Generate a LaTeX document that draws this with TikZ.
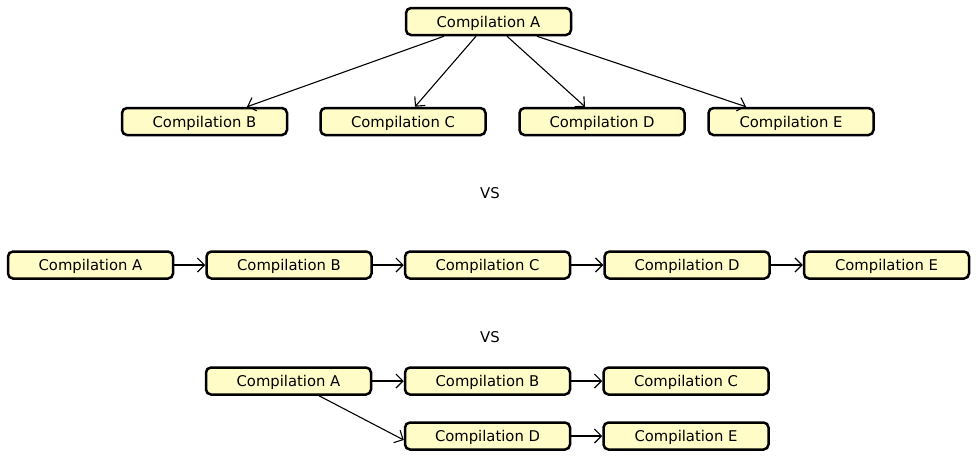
\documentclass[tikz,border=0pt]{standalone}
\usepackage{fontspec}
\setmainfont{DejaVu Sans}
\usetikzlibrary{arrows.meta}
\begin{document}
\begin{tikzpicture}[x=1pt,y=-1pt,
  comp/.style={draw=black,line width=2.5pt,fill=yellow!22!white,rounded corners=5pt,
    minimum width=165pt,minimum height=27pt,inner sep=0pt,text depth=0pt,font=\fontsize{14.8}{16}\selectfont},
  lbl/.style={font=\fontsize{14.8}{16}\selectfont,inner sep=0pt},
  arr/.style={line width=1.1pt,-{Straight Barb[length=7pt,width=14pt,line width=1.1pt]}}]
\useasboundingbox (0,0) rectangle (978,469);
% top tree
\node[comp] (tA) at (488.5,21.5) {Compilation A};
\node[comp] (tB) at (204.5,121.5) {Compilation B};
\node[comp] (tC) at (403,121.5) {Compilation C};
\node[comp] (tD) at (602,121.5) {Compilation D};
\node[comp] (tE) at (791,121.5) {Compilation E};
\draw[arr] (tA.south -| 444,0) -- (tB.north -| 247,0);
\draw[arr] (tA.south -| 476,0) -- (tC.north -| 415,0);
\draw[arr] (tA.south -| 507,0) -- (tD.north -| 585,0);
\draw[arr] (tA.south -| 537,0) -- (tE.north -| 746,0);
\node[lbl] (vs1) at (490,193) {VS};
% chain
\node[comp] (cA) at (90.5,265) {Compilation A};
\node[comp] (cB) at (289,265) {Compilation B};
\node[comp] (cC) at (487.5,265) {Compilation C};
\node[comp] (cD) at (687,265) {Compilation D};
\node[comp] (cE) at (886.5,265) {Compilation E};
\draw[arr] (cA) -- (cB);
\draw[arr] (cB) -- (cC);
\draw[arr] (cC) -- (cD);
\draw[arr] (cD) -- (cE);
\node[lbl] (vs2) at (490,337) {VS};
% branch
\node[comp] (bA) at (288.5,381) {Compilation A};
\node[comp] (bB) at (487.5,381) {Compilation B};
\node[comp] (bC) at (686,381) {Compilation C};
\node[comp] (bD) at (487.5,436) {Compilation D};
\node[comp] (bE) at (686,436) {Compilation E};
\draw[arr] (bA) -- (bB);
\draw[arr] (bB) -- (bC);
\draw[arr] (bD) -- (bE);
\draw[arr] (bA.south -| 319,0) -- (bD.west |- 0,440);
\end{tikzpicture}
\end{document}
